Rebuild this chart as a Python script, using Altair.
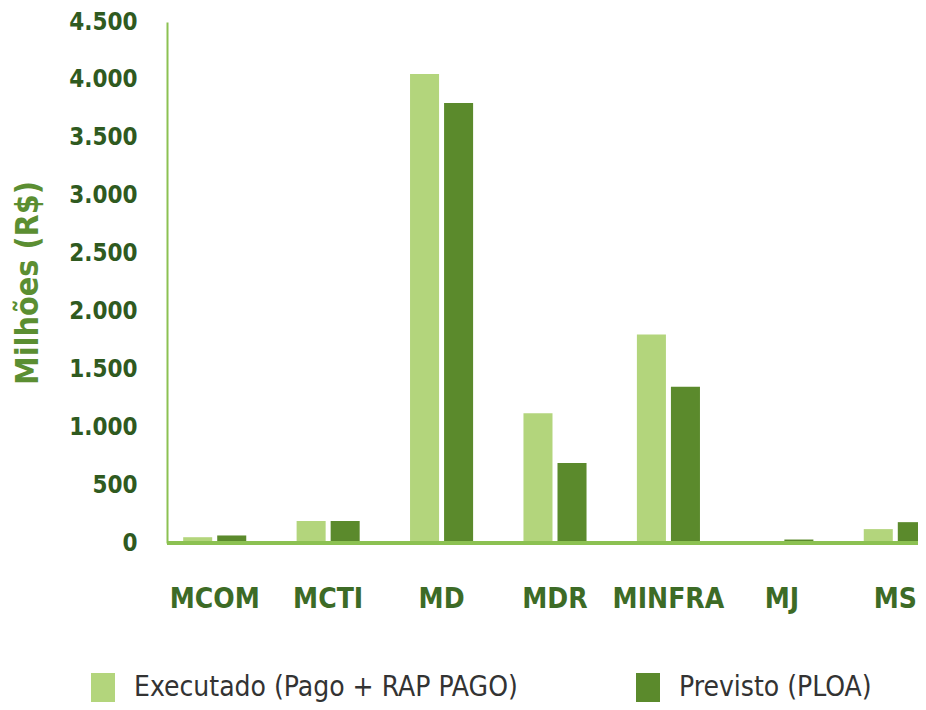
import altair as alt
import pandas as pd

categories = ["MCOM", "MCTI", "MD", "MDR", "MINFRA", "MJ", "MS"]
executado = [50, 190, 4050, 1120, 1800, 5, 120]
previsto = [65, 190, 3800, 690, 1350, 30, 180]
series = ["Executado (Pago + RAP PAGO)", "Previsto (PLOA)"]
colors = ["#b3d57c", "#5b8a2c"]
y_ticks = [0, 500, 1000, 1500, 2000, 2500, 3000, 3500, 4000, 4500]

rows = []
for c, e, p in zip(categories, executado, previsto):
    rows.append({"cat": c, "serie": series[0], "valor": e})
    rows.append({"cat": c, "serie": series[1], "valor": p})
df = pd.DataFrame(rows)

FONT = "DejaVu Sans Condensed, sans-serif"
W, H = 776, 521

x = alt.X("cat:N", sort=categories, title=None,
          scale=alt.Scale(range=[16, 810], paddingInner=0.444, paddingOuter=0.222),
          axis=alt.Axis(domain=False, ticks=False, labelAngle=0, labelPadding=42,
                        labelFont=FONT, labelFontSize=28, labelFontWeight="bold",
                        labelColor="#3d6b26"))
y = alt.Y("valor:Q", title="Milhões (R$)",
          scale=alt.Scale(domain=[0, 4500], nice=False),
          axis=alt.Axis(values=y_ticks, offset=-25, grid=False, ticks=False,
                        domainColor="#8cc152", domainWidth=2,
                        labelExpr="replace(format(datum.value, ','), ',', '.')",
                        labelFont=FONT, labelFontSize=24, labelFontWeight="bold",
                        labelColor="#2f5a1f", labelPadding=30,
                        titleFont=FONT, titleFontSize=32, titleFontWeight="bold",
                        titleColor="#5b8e32", titlePadding=24))

bars = alt.Chart(df).mark_bar().encode(
    x=x,
    xOffset=alt.XOffset("serie:N", sort=series,
                        scale=alt.Scale(paddingInner=0.147, paddingOuter=0)),
    y=y,
    color=alt.Color("serie:N", sort=series,
                    scale=alt.Scale(domain=series, range=colors),
                    legend=alt.Legend(title=None, orient="none", legendX=-54, legendY=651,
                                      direction="horizontal", columns=2, columnPadding=115,
                                      symbolType="M-0.8,-1H0.8V1H-0.8Z", symbolSize=900,
                                      symbolStrokeWidth=0, labelFont=FONT,
                                      labelFontSize=28, labelColor="#333333",
                                      labelOffset=16, labelLimit=500)),
)

base_rule = alt.Chart(pd.DataFrame({"v": [0]})).mark_rule(
    color="#8cc152", strokeWidth=4
).encode(x=alt.value(25), x2=alt.value(W), y=alt.Y("v:Q"))

chart = alt.layer(bars, base_rule).properties(
    width=W, height=H,
    autosize=alt.AutoSizeParams(type="none"),
    padding={"left": 134, "top": 14, "right": 0, "bottom": 159},
).configure(background="white").configure_view(stroke=None)

chart.save("out.html", embed_options={"renderer": "svg", "actions": False})
